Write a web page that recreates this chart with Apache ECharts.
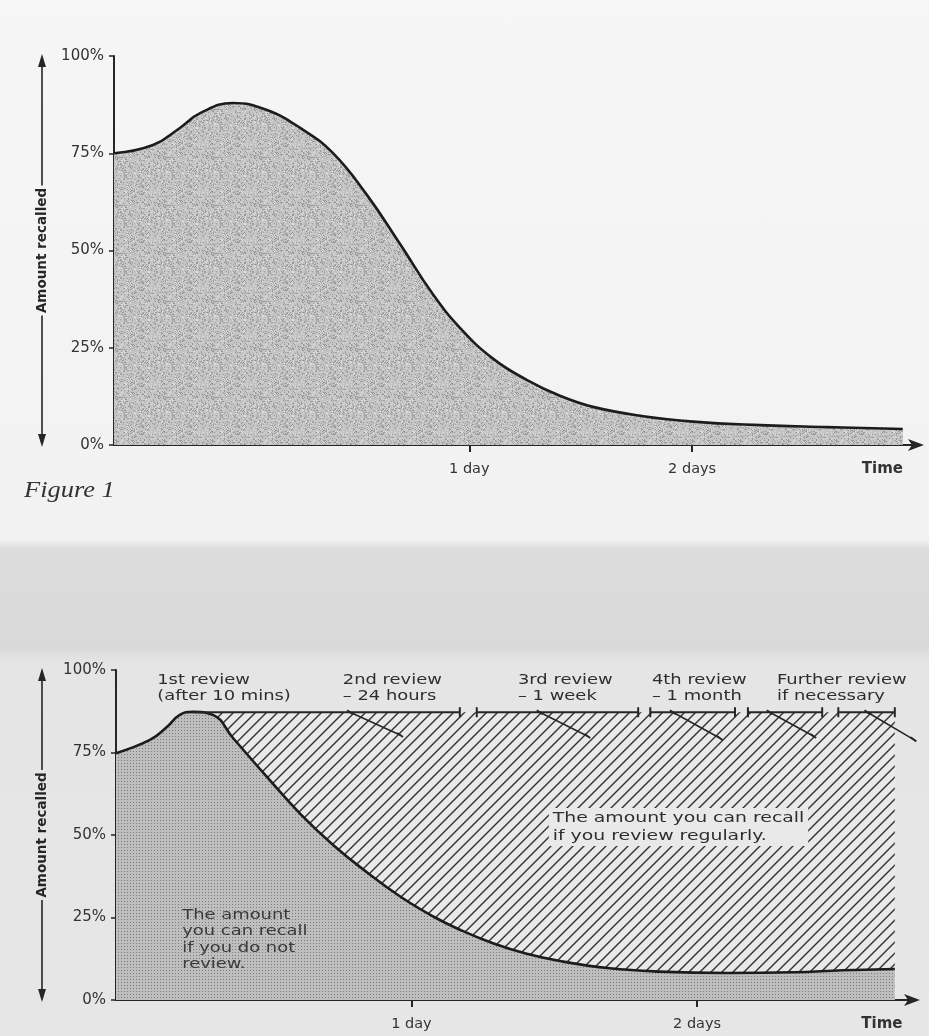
<!DOCTYPE html>
<html><head><meta charset="utf-8">
<script src="https://cdn.jsdelivr.net/npm/echarts@6/dist/echarts.min.js"></script>
<style>
html,body{margin:0;padding:0;background:#f3f3f3}
#c{width:929px;height:1036px;background:linear-gradient(to bottom,#f6f6f6 0px,#f2f2f2 540px,#dcdcdc 549px,#d9d9d9 648px,#e5e5e5 662px,#e6e6e6 1036px)}
</style>
</head><body><div id="c"></div>
<script>
// ---------- Figure 1 data (x in schematic time units, y in %) ----------
const fig1X = [0, 4.8, 8.1, 10.6, 14.6, 18.8, 22.9, 26.9, 31.1, 35.2, 39.2, 42.6, 46.6, 50.8, 54.9, 58.9, 65.1, 71.2, 79.5, 87.7, 97.0];
const fig1Y = [75, 77.1, 81.5, 85.3, 87.9, 86.1, 81.5, 75.1, 64.3, 51.6, 38.8, 30.0, 22.2, 16.7, 12.6, 9.8, 7.4, 6.0, 5.1, 4.6, 4.1];
const fig1TickValues = [43.7, 71.1];
const fig1TickLabels = ['1 day', '2 days'];
const fig1TimeAt = 94.5;

// ---------- Figure 2 data ----------
const fig2X = [0, 4.2, 6.3, 7.9, 9.5, 12.0, 14.5, 18.7, 22.8, 26.9, 31.2, 35.3, 39.3, 42.6, 46.7, 50.9, 55.0, 61.2, 67.4, 75.7, 83.9, 90.1, 96.5];
const fig2Y = [74.8, 78.8, 82.7, 86.4, 87.3, 86.4, 79.4, 67.6, 56.5, 47.0, 38.5, 31.2, 25.3, 21.3, 17.2, 14.0, 11.8, 9.6, 8.6, 8.2, 8.4, 9.0, 9.4];
const fig2TickValues = [36.6, 72.0];
const fig2TickLabels = ['1 day', '2 days'];
const fig2TimeAt = 94.9;

// review (regular revision) level and segments
const reviewLevel = 87.2;
const reviewStart = 9.5;
const reviewEnd = 96.5;
const reviewSegStart = [9.5, 44.7, 66.2, 78.3, 89.5];
const reviewSegEnd = [42.6, 64.7, 76.7, 87.5, 96.5];
const forgetStartX = [29.0, 52.5, 69.0, 81.0, 93.1];
const forgetEndX = [35.2, 58.4, 74.8, 86.4, 98.8];
const forgetEndY = [80.3, 80.0, 79.4, 80.0, 79.0];
const reviewLabels = ['1st review\n(after 10 mins)', '2nd review\n\u2013 24 hours', '3rd review\n\u2013 1 week', '4th review\n\u2013 1 month', 'Further review\nif necessary'];
const reviewLabelX = [5.1, 28.1, 49.8, 66.4, 81.9];
const reviewLabelTop = 99.2;
const noteRegular = 'The amount you can recall\nif you review regularly.';
const noteRegularAt = [54.0, 58.2];
const noteNoReview = 'The amount\nyou can recall\nif you do not\nreview.';
const noteNoReviewAt = [8.2, 28.2];

const yTickInterval = 25;

// ---------- layout ----------
const X_MAX = 99;
const G1 = {left:114, top:56, width:805, height:389};
const G2 = {left:116, top:670, width:799, height:330};
const INK = '#262626';
const FONT = 'DejaVu Sans';

// ---------- textures ----------
function stipple(){
  const n=48, c=document.createElement('canvas'); c.width=c.height=n;
  const g=c.getContext('2d'); g.fillStyle='#c4c4c4'; g.fillRect(0,0,n,n);
  for(let y=0;y<n;y++) for(let x=0;x<n;x++){
    let h=Math.imul(x,374761393)+Math.imul(y,668265263); h=Math.imul(h^(h>>>13),1274126177); h=(h^(h>>>16))>>>0;
    const r=h%100;
    if(r<20){g.fillStyle='#9a9a9a';g.fillRect(x,y,1,1);}
    else if(r<32){g.fillStyle='#dadada';g.fillRect(x,y,1,1);}
  }
  return c;
}
function screen(){
  const c=document.createElement('canvas'); c.width=c.height=3;
  const g=c.getContext('2d'); g.fillStyle='#bebebe'; g.fillRect(0,0,3,3);
  g.fillStyle='#7c7c7c'; g.fillRect(1,1,1,1); return c;
}
function hatch(){
  const n=11, c=document.createElement('canvas'); c.width=c.height=n;
  const g=c.getContext('2d'); g.fillStyle='#e9e9e9'; g.fillRect(0,0,n,n);
  g.strokeStyle='#333'; g.lineWidth=1.4;
  [-n,0,n].forEach(k=>{g.beginPath();g.moveTo(k-1,n+1);g.lineTo(k+n+1,-1);g.stroke();});
  return c;
}

function xAxisFor(gi, ticks, labels, timeAt){
  return {
    gridIndex:gi, type:'value', min:0, max:X_MAX,
    axisLine:{show:true, onZero:false, symbol:['none','arrow'], symbolSize:[9,16], symbolOffset:[0,5], lineStyle:{color:INK,width:2}},
    axisTick:{show:true, customValues:ticks, length:7, lineStyle:{color:INK,width:2}},
    axisLabel:{show:true, customValues:ticks.concat([timeAt]), margin:17, fontSize:14.5, fontFamily:FONT, color:'#333',
      formatter:function(v){const i=ticks.indexOf(v); return i>=0?labels[i]:'{t|Time}';},
      rich:{t:{fontSize:15, fontWeight:'bold', fontFamily:FONT, color:'#333'}}},
    splitLine:{show:false}
  };
}
function yAxisFor(gi){
  return {
    gridIndex:gi, type:'value', min:0, max:100, interval:yTickInterval,
    axisLine:{show:true, onZero:false, lineStyle:{color:INK,width:2}},
    axisTick:{show:true, length:5, lineStyle:{color:INK,width:1.5}},
    axisLabel:{show:true, formatter:'{value}%', margin:10, fontSize:15, fontFamily:FONT, color:'#333'},
    splitLine:{show:false}
  };
}

const series = [];
series.push({type:'line', xAxisIndex:0, yAxisIndex:0, data:fig1X.map((x,i)=>[x,fig1Y[i]]),
  smooth:0.45, symbol:'none', lineStyle:{color:'#1c1c1c', width:2.6},
  areaStyle:{color:{image:stipple(), repeat:'repeat'}, opacity:1}});
series.push({type:'line', xAxisIndex:1, yAxisIndex:1, data:[[reviewStart,reviewLevel],[reviewEnd,reviewLevel]],
  symbol:'none', lineStyle:{width:0, opacity:0}, areaStyle:{color:{image:hatch(), repeat:'repeat'}, opacity:1}});
series.push({type:'line', xAxisIndex:1, yAxisIndex:1, data:fig2X.map((x,i)=>[x,fig2Y[i]]),
  smooth:0.45, symbol:'none', lineStyle:{color:'#1c1c1c', width:2.6},
  areaStyle:{color:{image:screen(), repeat:'repeat'}, opacity:1}});
reviewSegStart.forEach((s,i)=>{
  series.push({type:'line', xAxisIndex:1, yAxisIndex:1, z:5,
    data:[{value:[s,reviewLevel], symbol: i===0?'none':'rect'},{value:[reviewSegEnd[i],reviewLevel], symbol:'rect'}],
    showSymbol:true, symbolSize:[2,10], lineStyle:{color:INK,width:1.8}, itemStyle:{color:INK}});
});
forgetStartX.forEach((s,i)=>{
  series.push({type:'line', xAxisIndex:1, yAxisIndex:1, z:5,
    data:[{value:[s,reviewLevel], symbol:'rect', symbolRotate:55},{value:[forgetEndX[i],forgetEndY[i]], symbol:'rect', symbolRotate:55}],
    showSymbol:true, symbolSize:[2,7], lineStyle:{color:INK,width:1.5}, itemStyle:{color:INK}});
});

const chart = echarts.init(document.getElementById('c'), null, {renderer:'canvas', width:929, height:1036});
chart.setOption({
  animation:false, backgroundColor:'transparent',
  textStyle:{fontFamily:FONT},
  grid:[Object.assign({containLabel:false, outerBoundsMode:'none'},G1), Object.assign({containLabel:false, outerBoundsMode:'none'},G2)],
  xAxis:[xAxisFor(0,fig1TickValues,fig1TickLabels,fig1TimeAt), xAxisFor(1,fig2TickValues,fig2TickLabels,fig2TimeAt)],
  yAxis:[yAxisFor(0), yAxisFor(1)],
  series:series
});

// ---------- annotations ----------
function px(gi, v){ return chart.convertToPixel({gridIndex:gi}, v); }
const graphics = [];
function axisName(g){
  const cx=42, top=g.top, bot=g.top+g.height, mid=(top+bot)/2, half=65;
  graphics.push({type:'line', z:10, shape:{x1:cx,y1:top+8,x2:cx,y2:mid-half}, style:{stroke:INK,lineWidth:1.6}});
  graphics.push({type:'line', z:10, shape:{x1:cx,y1:mid+half,x2:cx,y2:bot-8}, style:{stroke:INK,lineWidth:1.6}});
  graphics.push({type:'polygon', z:10, shape:{points:[[cx,top-2],[cx-4,top+11],[cx+4,top+11]]}, style:{fill:INK}});
  graphics.push({type:'polygon', z:10, shape:{points:[[cx,bot+2],[cx-4,bot-11],[cx+4,bot-11]]}, style:{fill:INK}});
  graphics.push({type:'text', z:10, x:cx, y:mid, rotation:Math.PI/2,
    style:{text:'Amount recalled', fontFamily:FONT, fontWeight:'bold', fontSize:13.5, fill:INK, align:'center', verticalAlign:'middle'}});
}
axisName(G1); axisName(G2);
graphics.push({type:'text', z:10, x:24, y:491, scaleX:1.15,
  style:{text:'Figure 1', fontFamily:'Liberation Serif', fontStyle:'italic', fontSize:23, fill:'#333', verticalAlign:'middle'}});
reviewLabels.forEach((t,i)=>{
  const p = px(1,[reviewLabelX[i], reviewLabelTop]);
  graphics.push({type:'text', z:10, x:p[0], y:p[1], scaleX:1.28,
    style:{text:t, fontFamily:FONT, fontSize:14, lineHeight:16, fill:'#2e2e2e', align:'left', verticalAlign:'top'}});
});
(function(){
  const p = px(1, noteRegularAt);
  graphics.push({type:'text', z:10, x:p[0]-3, y:p[1], scaleX:1.3,
    style:{text:noteRegular, fontFamily:FONT, fontSize:14.5, lineHeight:18, fill:'#2e2e2e', align:'left', verticalAlign:'top',
      backgroundColor:'#e9e9e9', padding:[1,3,1,3]}});
  const q = px(1, noteNoReviewAt);
  graphics.push({type:'text', z:10, x:q[0], y:q[1], scaleX:1.28,
    style:{text:noteNoReview, fontFamily:FONT, fontSize:14, lineHeight:16.5, fill:'#3a3a3a', align:'left', verticalAlign:'top'}});
})();
chart.setOption({graphic:graphics});
</script>
</body></html>
